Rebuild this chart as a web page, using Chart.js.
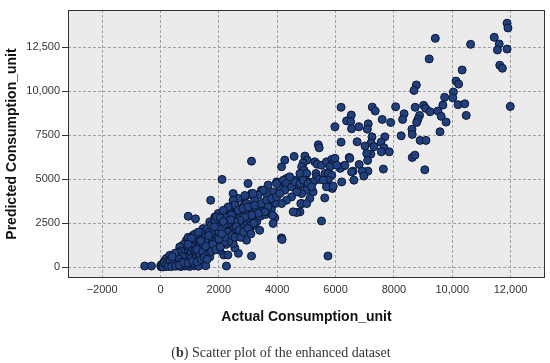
<!DOCTYPE html>
<html>
<head>
<meta charset="utf-8">
<script src="https://cdn.jsdelivr.net/npm/chart.js@4.4.1/dist/chart.umd.min.js"></script>
<style>
  html, body { margin: 0; padding: 0; background: #fff; }
  #wrap { position: relative; width: 550px; height: 363px; }
  #caption { position: absolute; left: 0; width: 562px; top: 345px; text-align: center;
             font: 14px "Liberation Serif", "DejaVu Serif", serif; color: #333; }
</style>
</head>
<body>
<div id="wrap">
  <canvas id="chart" width="550" height="363"></canvas>
  <div id="caption">(<b>b</b>) Scatter plot of the enhanced dataset</div>
</div>
<script>
// tick values / labels (SPSS style, mixed thousand separators)
const xTickValues = [-2000, 0, 2000, 4000, 6000, 8000, 10000, 12000];
const xTickLabels = ['\u22122000', '0', '2000', '4000', '6000', '8000', '10,000', '12,000'];
const yTickValues = [0, 2500, 5000, 7500, 10000, 12500];
const yTickLabels = ['0', '2500', '5000', '7500', '10,000', '12,500'];

// [actual, predicted] pairs
const originCluster = [
  [20,30],[60,80],[100,40],[150,120],[200,60],[250,200],[300,100],[80,200],[120,300],[180,250],
  [220,380],[280,320],[340,260],[380,420],[420,300],[460,520],[500,380],[550,460],[600,300],[350,520],
  [260,460],[160,400],[40,150],[10,100],[140,180],[320,180],[400,150],[480,220],[560,200],[520,620],
  [620,700],[580,560],[450,650],[300,600],[200,500],[320,680],[660,1150],[700,900],
  [50,50],[100,150],[150,60],[200,250],[250,100],[300,300],[350,150],[400,400],[450,250],[120,80],
  [180,150],[240,300],[30,60],[70,120],[90,20],[130,240],[210,140],[270,50],[330,380],[420,180],
  [600,850],[750,600],[500,800],[400,600],[650,450],[700,300],
  [380,40],[520,60],[700,40],[850,70],[1000,50],[1150,80],[1300,60],[1550,90],[650,120],[900,150],
  [1120,210],[800,260],[950,250],[1100,350],[1250,300],[1400,450],[1500,550],[1600,450]
];
const lowBlob = [
  [720,1200],[760,400],[800,800],[820,1050],[860,650],[890,1540],[900,1300],[900,500],[950,950],[980,1150],
  [1000,700],[1040,1400],[1060,850],[1100,1100],[1120,1820],[1120,600],[1150,1550],[1180,950],[1200,1300],[1230,750],
  [1260,1700],[1280,1100],[1300,1450],[1320,850],[1350,1250],[1380,1900],[1400,1000],[1420,1600],[1450,1200],[1460,2200],
  [1480,2000],[1500,800],[1500,1400],[1550,1750],[1560,1000],[1600,2200],[1620,1300],[1650,1550],[1680,2000],[1690,590],
  [1690,2580],[1700,1100],[1720,1800],[1750,2400],[1780,1400],[1800,1650],[1820,2100],[1850,1200],[1870,2600],[1880,1900],
  [1900,1500],[1920,2860],[1950,2300],[1960,1750],[2000,2000],[2000,1300],[2030,970],[2050,2800],[2060,1550],[2100,2200],
  [2120,1850],[2150,3240],[2180,1400],[2200,2450],[2200,1700],
  [850,350],[950,1700],[1050,500],[1100,1600],[1200,500],[1250,1000],[1350,650],[1380,1500],[1450,900],[1550,1200],
  [1600,700],[1650,1800],[1750,900],[1800,1300],[1850,2300],[1900,1000],[2000,1600],[2050,1150],[2100,1900],[2150,2600],
  [1200,1900],[1300,2000],[1050,1650],[800,1300],[950,1300]
];
const midBlob = [
  [2250,2050],[2280,3200],[2300,1600],[2320,2700],[2350,2300],[2380,1900],[2400,3400],[2420,2500],[2450,2100],[2490,1350],
  [2490,3530],[2500,2900],[2520,2300],[2560,3600],[2580,2000],[2600,2600],[2620,3100],[2650,2250],[2680,1900],[2700,2800],
  [2720,3300],[2750,2400],[2780,2100],[2800,3000],[2830,3910],[2830,2600],[2860,3500],[2880,2300],[2900,2800],[2950,1540],
  [2950,3200],[2980,2500],[3000,3000],[3050,2700],[3080,3400],[3100,2400],[3120,4190],[3150,3100],[3200,2800],[3220,3600],
  [3280,3300],[3300,2600],[3350,3000],[3400,2100],[3400,3400],[3420,2900],[3500,3200],[3550,3700],[3600,3000],[3650,3400],
  [3700,3150],[3750,3800],[3800,3300],[3850,2950],[3860,2490],[4550,3150],[5010,3620],
  [3350,4100],[3120,4100],[3230,3810],[2890,4000],[2950,3620],[2660,3910],[2490,4190],[2490,3810],[2550,3530],[2320,3430],
  [2150,3150],[1980,3060],[1860,2860],[2210,2860],[2440,2960],[2660,3240],[2830,3340],[3000,3430],[3230,3530],[3460,3620],
  [3640,3810],[3810,3910],[3980,4000],[4090,4190],[3690,3430],[3580,3150],[3350,3060],[3120,2960],[2890,2860],[2720,2670],
  [2550,2580],[2320,2490],[2090,2390],[1920,2200],[1720,3810],[2890,4080],[3180,4190],[3000,4760],
  [2250,1300],[2300,2000],[2350,1500],[2400,2700],[2450,1800],[2550,1700],[2600,2300],[2700,2100],[2750,1700],[2850,2000],
  [3000,2200],[3100,1900],[3200,2500]
];
const upperMid = [
  [5410,6960],[5440,6790],[7210,6430],[7070,6470],[7840,6560],[7570,6560],[6810,5840],[7100,6070],[7110,5460],[6920,5460],
  [6970,5180],[6600,5460],[6630,4950],[6470,6240],[6280,5750],[6160,5620],[6210,4850],[7640,5580],[5630,3940],[4950,6320],
  [5030,6090],[4890,5930],[4840,5710],[4920,5520],[4780,5330],[5010,5330],[4980,4950],[4890,4760],[5060,4850],[5120,4570],
  [5010,4380],[5230,4280],[5120,3910],[4840,3620],[4780,3150],[5290,5990],[5370,5860],[5330,5330],[5350,5140],[5410,4990],
  [5520,5800],[5690,5990],[5870,6130],[5920,5900],[5810,5710],[5640,5330],[5750,5330],[5870,5230],[5750,4950],[5780,4570],
  [5890,4480],[5980,6190],[6040,5800],[4580,6300],[4260,6090],[4150,5710],[6320,5800],[6490,6190],[6550,5420],[4610,4950],
  [4320,5050],[4150,4760],[3980,4850],[3690,4670],[4720,4570],[5230,4850],[5580,4950],[5690,4570],[5920,4610],[3120,6030],
  [4210,4950],[4320,4760],[4090,4480],[3860,4280],[3640,4190],[3460,4380],[4260,4380],[4490,4570],[4610,4850],[4780,4760],
  [4890,4950],[5060,4760],[5180,4570],[4840,4190],[4670,4280],[4490,4000],[4320,3810],[4150,3620],[3920,3620],[4810,3620],
  [4670,3110],[3920,2810],[4430,5140],[3980,4760],[3520,4380],[9060,5540],[8630,6240],[8720,6370],[2110,4990]
];
const highRange = [
  [11880,13870],[11910,13600],[11440,13070],[11610,12690],[11550,12350],[11880,12400],[11630,11480],[11720,11310],[11990,9140],[9420,13010],
  [10630,12670],[9210,11840],[10340,11210],[10130,10580],[10220,10410],[8770,10360],[8690,10050],[10040,9960],[10020,9630],[9740,9660],
  [6190,9090],[7260,9100],[7360,8880],[8060,9120],[8730,9090],[9020,9200],[9090,9030],[9240,8840],[9680,9220],[10200,9240],
  [10430,9290],[10480,8630],[9510,8880],[9620,8580],[9790,8250],[9580,7700],[8880,8630],[8820,8400],[8780,8230],[8350,8720],
  [8300,8400],[6540,8650],[6380,8320],[6520,8270],[6550,7870],[5980,7980],[6800,7980],[7120,8150],[7090,7850],[7600,8400],
  [7890,8230],[8620,7840],[8630,7550],[8250,7470],[7690,7410],[7560,7110],[7250,7410],[7220,7070],[7320,6850],[6740,7130],
  [7010,6890],[6190,7110],[8900,7210],[9100,7210],[7660,6790]
];
const outliers = [
  [950,2900],[1200,2750],[5520,2630],[5740,640],[4150,1670],[4170,1580],[2170,700],[2310,700],[2670,790],[3120,640],
  [2260,70],[-540,70],[-310,70],[2550,1100],[2440,1440],[2090,1440],[1920,1250],[3060,2160],[3230,2390]
];

const allPoints = [...highRange, ...upperMid, ...outliers, ...midBlob, ...lowBlob, ...originCluster]
  .map(([x, y]) => ({x: x, y: y}));

const fontFamily = "'Liberation Sans', Arial, sans-serif";

const plotFrame = {
  id: 'plotFrame',
  beforeDraw(chart) {
    const {ctx, chartArea: a} = chart;
    ctx.save();
    ctx.fillStyle = '#ffffff';
    ctx.fillRect(0, 0, chart.width, chart.height);
    ctx.fillStyle = '#ebebeb';
    ctx.fillRect(a.left, a.top, a.right - a.left, a.bottom - a.top);
    ctx.restore();
  },
  afterDraw(chart) {
    const {ctx, chartArea: a} = chart;
    ctx.save();
    ctx.strokeStyle = '#333';
    ctx.lineWidth = 1;
    ctx.strokeRect(a.left + 0.5, a.top + 0.5, a.right - a.left - 1, a.bottom - a.top - 1);
    ctx.restore();
  }
};

new Chart(document.getElementById('chart').getContext('2d'), {
  type: 'scatter',
  data: {
    datasets: [{
      data: allPoints,
      pointRadius: 4,
      pointHoverRadius: 4,
      backgroundColor: '#21417e',
      borderColor: '#0a1633',
      borderWidth: 1
    }]
  },
  options: {
    responsive: false,
    animation: false,
    layout: { padding: { left: 0, top: 10, right: 5, bottom: 35 } },
    plugins: { legend: { display: false }, tooltip: { enabled: false } },
    scales: {
      x: {
        type: 'linear',
        min: -3170,
        max: 13180,
        afterBuildTicks: s => { s.ticks = xTickValues.map(v => ({ value: v })); },
        afterFit: s => { s.height = 50; },
        ticks: {
          callback: (v, i) => xTickLabels[i],
          font: { size: 11, family: fontFamily },
          color: '#333',
          padding: 5,
          maxRotation: 0,
          autoSkip: false
        },
        grid: { color: '#a0a0a0', drawTicks: false },
        border: { display: false, dash: [3, 2] },
        title: {
          display: true,
          text: 'Actual Consumption_unit',
          font: { size: 14, weight: 'bold', family: fontFamily },
          color: '#111',
          padding: { top: 0, bottom: 2 }
        }
      },
      y: {
        type: 'linear',
        min: -610,
        max: 14620,
        afterBuildTicks: s => { s.ticks = yTickValues.map(v => ({ value: v })); },
        afterFit: s => { s.width = 68; },
        ticks: {
          callback: (v, i) => yTickLabels[i],
          font: { size: 11, family: fontFamily },
          color: '#333',
          padding: 2,
          autoSkip: false
        },
        grid: { color: '#a0a0a0', tickLength: 6, tickColor: '#333', tickBorderDash: [], tickWidth: 1 },
        border: { display: false, dash: [3, 2] },
        title: {
          display: true,
          text: 'Predicted Consumption_unit',
          font: { size: 14, weight: 'bold', family: fontFamily },
          color: '#111',
          padding: { top: 4, bottom: 0 }
        }
      }
    }
  },
  plugins: [plotFrame]
});
</script>
</body>
</html>
